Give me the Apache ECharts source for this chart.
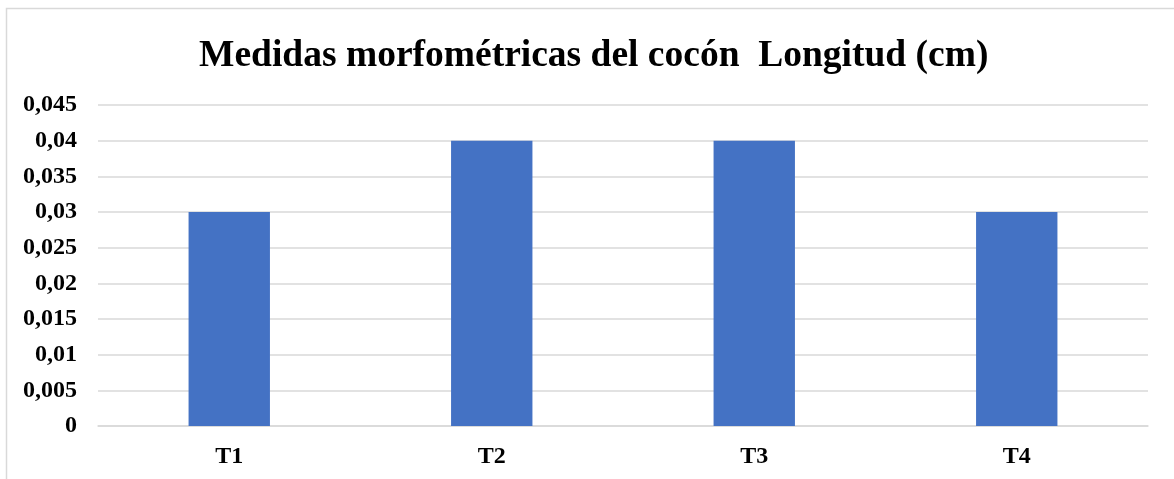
<!DOCTYPE html>
<html>
<head>
<meta charset="utf-8">
<script src="https://cdn.jsdelivr.net/npm/echarts@6/dist/echarts.min.js"></script>
<style>
  html, body { margin: 0; padding: 0; background: #fff; }
  #chart { width: 1174px; height: 479px; }
</style>
</head>
<body>
<div id="chart"></div>
<script>
// datos del gráfico
const categories = ['T1', 'T2', 'T3', 'T4'];
const longitud = [0.03, 0.04, 0.04, 0.03];
const titleText = 'Medidas morfométricas del cocón  Longitud (cm)';

const chart = echarts.init(document.getElementById('chart'));
chart.setOption({
  animation: false,
  backgroundColor: '#fff',
  textStyle: { fontFamily: '"Liberation Serif", "DejaVu Serif", serif' },
  graphic: [{
    type: 'rect',
    shape: { x: 6.5, y: 8.5, width: 1300, height: 600 },
    style: { fill: 'none', stroke: '#d9d9d9', lineWidth: 1.5 },
    silent: true
  }],
  title: {
    text: titleText,
    left: 194,
    top: 32,
    textStyle: {
      fontFamily: '"Liberation Serif", serif',
      fontSize: 37.5,
      fontWeight: 'bold',
      color: '#000'
    }
  },
  grid: { left: 98, right: 26, top: 105, bottom: 53 },
  xAxis: {
    type: 'category',
    data: categories,
    axisLine: { lineStyle: { color: '#d9d9d9', width: 1.5 } },
    axisTick: { show: false },
    axisLabel: {
      margin: 19,
      fontFamily: '"Liberation Serif", serif',
      fontSize: 24,
      fontWeight: 'bold',
      color: '#000'
    }
  },
  yAxis: {
    type: 'value',
    min: 0,
    max: 0.045,
    interval: 0.005,
    axisLine: { show: false },
    axisTick: { show: false },
    splitLine: { lineStyle: { color: '#d9d9d9', width: 1.5 } },
    axisLabel: {
      margin: 21,
      fontFamily: '"Liberation Serif", serif',
      fontSize: 24,
      fontWeight: 'bold',
      color: '#000',
      formatter: v => String(parseFloat(v.toFixed(3))).replace('.', ',')
    }
  },
  series: [{
    type: 'bar',
    data: longitud,
    barWidth: '31%',
    itemStyle: { color: '#4472c4' }
  }]
});
</script>
</body>
</html>
